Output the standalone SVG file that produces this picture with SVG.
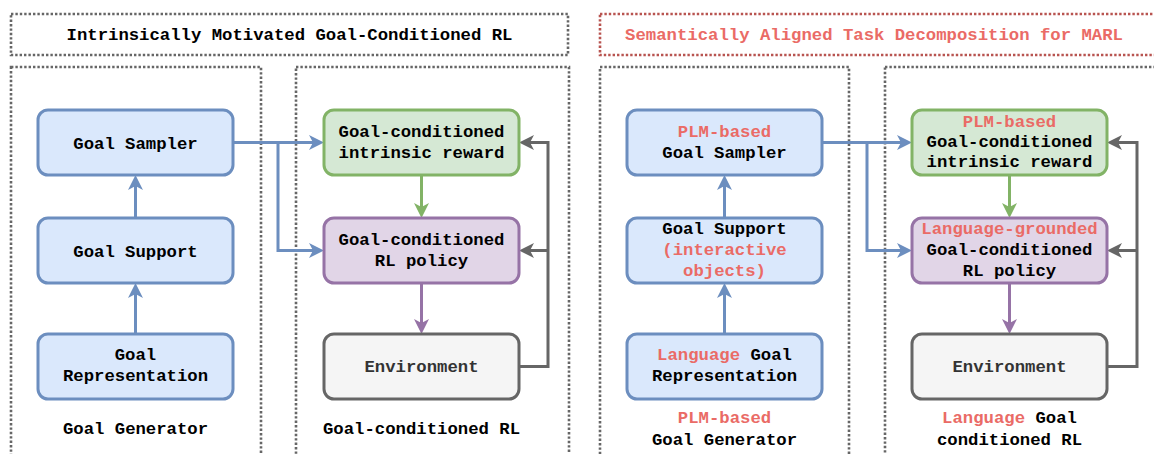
<svg xmlns="http://www.w3.org/2000/svg" width="1154" height="454" viewBox="0 0 1154 454">
<style>
  text { font-family: "Liberation Mono", "Courier New", monospace; font-weight: bold; font-size: 17.3px; text-anchor: middle; fill: #000; }
  .red { fill: #ea6b66; }
  .env { fill: #333333; }
  .grp { fill: none; stroke: #666666; stroke-width: 2.6; stroke-dasharray: 2.4 2; }
  .grpred { fill: none; stroke: #b85450; stroke-width: 2.6; stroke-dasharray: 2.4 2; }
  .blue { fill: #dae8fc; stroke: #6c8ebf; stroke-width: 3; }
  .green { fill: #d5e8d4; stroke: #82b366; stroke-width: 3; }
  .purple { fill: #e1d5e7; stroke: #9673a6; stroke-width: 3; }
  .gray { fill: #f5f5f5; stroke: #666666; stroke-width: 3; }
  .c { fill: none; stroke-width: 3; }
  .cb { stroke: #6c8ebf; marker-end: url(#ab); }
  .cg { stroke: #82b366; marker-end: url(#ag); }
  .cp { stroke: #9673a6; marker-end: url(#ap); }
  .ck { stroke: #666666; marker-end: url(#ak); }
</style>
<defs>
  <marker id="ab" viewBox="0 0 15 15" refX="10" refY="7.5" markerWidth="15" markerHeight="15" markerUnits="userSpaceOnUse" orient="auto"><path d="M0,0 L15,7.5 L0,15 L4,7.5 Z" fill="#6c8ebf"/></marker>
  <marker id="ag" viewBox="0 0 15 15" refX="10" refY="7.5" markerWidth="15" markerHeight="15" markerUnits="userSpaceOnUse" orient="auto"><path d="M0,0 L15,7.5 L0,15 L4,7.5 Z" fill="#82b366"/></marker>
  <marker id="ap" viewBox="0 0 15 15" refX="10" refY="7.5" markerWidth="15" markerHeight="15" markerUnits="userSpaceOnUse" orient="auto"><path d="M0,0 L15,7.5 L0,15 L4,7.5 Z" fill="#9673a6"/></marker>
  <marker id="ak" viewBox="0 0 15 15" refX="10" refY="7.5" markerWidth="15" markerHeight="15" markerUnits="userSpaceOnUse" orient="auto"><path d="M0,0 L15,7.5 L0,15 L4,7.5 Z" fill="#666666"/></marker>
</defs>
<rect width="1154" height="454" fill="#ffffff"/>

<g id="group-left-title">
  <rect class="grp" x="11" y="14" width="557" height="41"/>
  <text x="289.5" y="40">Intrinsically Motivated Goal-Conditioned RL</text>
</g>
<g id="group-goal-generator">
  <rect class="grp" x="11" y="67" width="250" height="400"/>
  <text x="135.5" y="434">Goal Generator</text>
</g>
<g id="group-gcrl">
  <rect class="grp" x="296" y="67" width="273" height="400"/>
  <text x="421.5" y="434">Goal-conditioned RL</text>
</g>
<g id="group-right-title">
  <rect class="grpred" x="600" y="14" width="570" height="41"/>
  <text class="red" x="874" y="40">Semantically Aligned Task Decomposition for MARL</text>
</g>
<g id="group-plm-generator">
  <rect class="grp" x="600" y="67" width="249" height="400"/>
  <text class="red" x="724.5" y="423">PLM-based</text>
  <text x="724.5" y="445">Goal Generator</text>
</g>
<g id="group-lang-gcrl">
  <rect class="grp" x="885" y="67" width="290" height="400"/>
  <text x="1009.5" y="423"><tspan class="red">Language</tspan> Goal</text>
  <text x="1009.5" y="445">conditioned RL</text>
</g>

<g id="connectors">
  <path class="c cb" d="M135.5,334 L135.5,288"/>
  <path class="c cb" d="M135.5,218 L135.5,180"/>
  <path class="c cb" d="M233,142.5 L319,142.5"/>
  <path class="c cb" d="M278,142.5 L278,250.5 L319,250.5"/>
  <path class="c cg" d="M421.5,175 L421.5,213"/>
  <path class="c cp" d="M421.5,283 L421.5,329"/>
  <path class="c ck" d="M519,366.5 L548,366.5 L548,142.5 L524,142.5"/>
  <path class="c ck" d="M548,250.5 L524,250.5"/>

  <path class="c cb" d="M724.5,334 L724.5,288"/>
  <path class="c cb" d="M724.5,218 L724.5,180"/>
  <path class="c cb" d="M822,142.5 L907,142.5"/>
  <path class="c cb" d="M867,142.5 L867,250.5 L907,250.5"/>
  <path class="c cg" d="M1009.5,175 L1009.5,213"/>
  <path class="c cp" d="M1009.5,283 L1009.5,329"/>
  <path class="c ck" d="M1107,366.5 L1137,366.5 L1137,142.5 L1112,142.5"/>
  <path class="c ck" d="M1137,250.5 L1112,250.5"/>
</g>

<g id="node-goal-sampler">
  <rect class="blue" x="38" y="110" width="195" height="65" rx="10"/>
  <text x="135.5" y="148.5">Goal Sampler</text>
</g>
<g id="node-goal-support">
  <rect class="blue" x="38" y="218" width="195" height="65" rx="10"/>
  <text x="135.5" y="256.5">Goal Support</text>
</g>
<g id="node-goal-representation">
  <rect class="blue" x="38" y="334" width="195" height="65" rx="10"/>
  <text x="135.5" y="360">Goal</text>
  <text x="135.5" y="381">Representation</text>
</g>
<g id="node-intrinsic-reward">
  <rect class="green" x="324" y="110" width="195" height="65" rx="10"/>
  <text x="421.5" y="137">Goal-conditioned</text>
  <text x="421.5" y="158">intrinsic reward</text>
</g>
<g id="node-rl-policy">
  <rect class="purple" x="324" y="218" width="195" height="65" rx="10"/>
  <text x="421.5" y="245">Goal-conditioned</text>
  <text x="421.5" y="266">RL policy</text>
</g>
<g id="node-environment">
  <rect class="gray" x="324" y="334" width="195" height="65" rx="10"/>
  <text class="env" x="421.5" y="372">Environment</text>
</g>

<g id="node-plm-goal-sampler">
  <rect class="blue" x="627" y="110" width="195" height="65" rx="10"/>
  <text class="red" x="724.5" y="137">PLM-based</text>
  <text x="724.5" y="158">Goal Sampler</text>
</g>
<g id="node-goal-support-objects">
  <rect class="blue" x="627" y="218" width="195" height="65" rx="10"/>
  <text x="724.5" y="234">Goal Support</text>
  <text class="red" x="724.5" y="255">(interactive</text>
  <text class="red" x="724.5" y="276">objects)</text>
</g>
<g id="node-language-goal-representation">
  <rect class="blue" x="627" y="334" width="195" height="65" rx="10"/>
  <text x="724.5" y="360"><tspan class="red">Language</tspan> Goal</text>
  <text x="724.5" y="381">Representation</text>
</g>
<g id="node-plm-intrinsic-reward">
  <rect class="green" x="912" y="110" width="195" height="65" rx="10"/>
  <text class="red" x="1009.5" y="127">PLM-based</text>
  <text x="1009.5" y="147">Goal-conditioned</text>
  <text x="1009.5" y="167">intrinsic reward</text>
</g>
<g id="node-language-grounded-policy">
  <rect class="purple" x="912" y="218" width="195" height="65" rx="10"/>
  <text class="red" x="1009.5" y="234">Language-grounded</text>
  <text x="1009.5" y="255">Goal-conditioned</text>
  <text x="1009.5" y="276">RL policy</text>
</g>
<g id="node-environment-right">
  <rect class="gray" x="912" y="334" width="195" height="65" rx="10"/>
  <text class="env" x="1009.5" y="372">Environment</text>
</g>
</svg>
